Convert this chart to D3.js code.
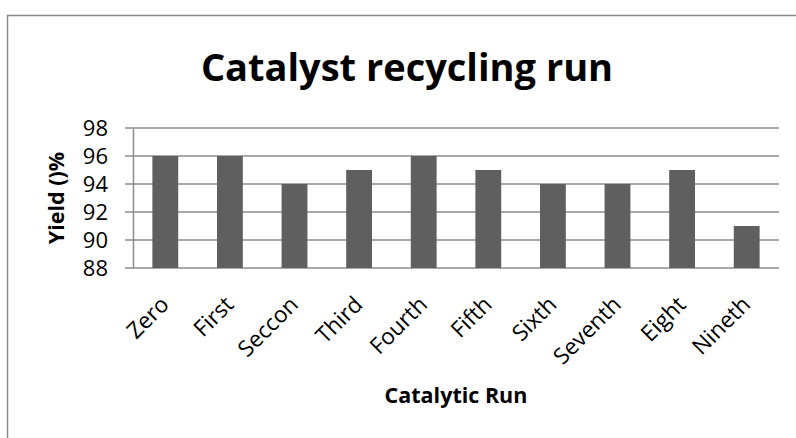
<!DOCTYPE html>
<html>
<head>
<meta charset="utf-8">
<script src="https://cdn.jsdelivr.net/npm/d3@7"></script>
<style>
  body { margin: 0; background: #fff; }
  text { font-family: "Open Sans", sans-serif; fill: #000; }
</style>
</head>
<body>
<div class="chart"></div>
<script>
// values
const runs = ["Zero", "First", "Seccon", "Third", "Fourth", "Fifth", "Sixth", "Seventh", "Eight", "Nineth"]
const yields = [96, 96, 94, 95, 96, 95, 94, 94, 95, 91]
const yTicks = [88, 90, 92, 94, 96, 98]

var margin = {top: 128, right: 17, bottom: 170, left: 133};
var width = 796 - margin.left - margin.right,
    height = 438 - margin.top - margin.bottom

const root = d3.select(".chart").append("svg")
    .attr("width", 796)
    .attr("height", 438)

// chart border (right and bottom fall outside the picture)
root.append("path")
    .attr("d", "M7.5,438 V15.5 H796")
    .attr("fill", "none")
    .attr("stroke", "#8c8c8c")
    .attr("stroke-width", 1.5)

const svg = root.append("g")
    .attr("transform", "translate(" + margin.left + "," + margin.top + ")")

const xScale = d3.scaleBand()
    .domain(runs)
    .range([0, width])
    .paddingInner(0.6)
    .paddingOuter(0.3)

const yScale = d3.scaleLinear()
    .domain([88, 98])
    .range([height, 0])

// gridlines
svg.append("g")
    .selectAll("line")
    .data(yTicks)
    .join("line")
    .attr("x1", -8)
    .attr("x2", width)
    .attr("y1", d => yScale(d))
    .attr("y2", d => yScale(d))
    .attr("stroke", "#8c8c8c")
    .attr("stroke-width", 1.5)

const yAxis = d3.axisLeft()
    .scale(yScale)
    .tickValues(yTicks)
    .tickSize(0)
    .tickPadding(25)

svg.append("g")
    .attr("class", "axis y-axis")
    .call(yAxis)
    .call(g => g.select(".domain").attr("stroke", "#8c8c8c").attr("stroke-width", 1.5))
    .selectAll("text")
    .attr("font-size", 22)
    .attr("font-family", "Open Sans")

svg.selectAll(".bar")
    .data(yields)
    .join("rect")
    .attr("class", "bar")
    .attr("x", (d, i) => xScale(runs[i]))
    .attr("width", xScale.bandwidth())
    .attr("y", d => yScale(d))
    .attr("height", d => height - yScale(d))
    .attr("fill", "#5f5f5f")

// category labels, rotated like the original
svg.append("g")
    .selectAll("text")
    .data(runs)
    .join("text")
    .attr("transform", d => `translate(${xScale(d) + xScale.bandwidth() / 2 + 5}, ${height + 38}) rotate(-45)`)
    .attr("text-anchor", "end")
    .attr("font-size", 22.5)
    .text(d => d)

svg.append("text")
    .attr("x", width / 2)
    .attr("y", height + 135)
    .attr("text-anchor", "middle")
    .attr("font-size", 21.5)
    .attr("font-weight", "bold")
    .text("Catalytic Run")

svg.append("text")
    .attr("transform", `translate(${64 - margin.left}, ${height / 2}) rotate(-90)`)
    .attr("text-anchor", "middle")
    .attr("font-size", 21.5)
    .attr("font-weight", "bold")
    .text("Yield ()%")

root.append("text")
    .attr("x", 407)
    .attr("y", 81)
    .attr("text-anchor", "middle")
    .attr("font-size", 38)
    .attr("font-weight", "bold")
    .text("Catalyst recycling run")
</script>
</body>
</html>
